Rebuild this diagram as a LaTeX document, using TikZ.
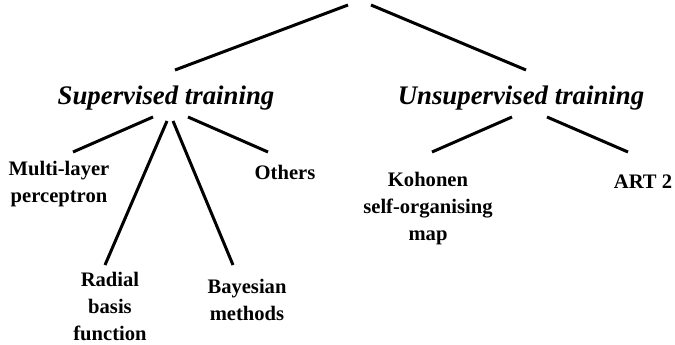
\documentclass[tikz,border=0pt]{standalone}
\usepackage{fontspec}
\setmainfont{Liberation Serif}
\begin{document}
\begin{tikzpicture}[x=1pt,y=-1pt,
  branch/.style={line width=3pt},
  group/.style={font=\fontsize{26.8}{30}\selectfont\bfseries\itshape, inner sep=0pt},
  leaf/.style={font=\fontsize{20.6}{27}\selectfont\bfseries, align=center, inner sep=0pt}]
\useasboundingbox (0,0) rectangle (675,345);

% category headings
\node[group] (sup) at (166,98) {Supervised training};
\node[group] (uns) at (521,98) {Unsupervised training};

% methods
\node[leaf] (mlp) at (59,184) {Multi-layer\\perceptron};
\node[leaf] (oth) at (285,172) {Others};
\node[leaf] (rbf) at (110,306) {Radial\\basis\\function};
\node[leaf] (bay) at (247,300) {Bayesian\\methods};
\node[leaf] (koh) at (428,209) {Kohonen\\self-organising\\map};
\node[leaf] (art) at (643,182) {ART 2};

% branch end points
\coordinate (rootL) at (348,5);
\coordinate (rootR) at (371,5);
\coordinate (supTop) at (175,70);
\coordinate (unsTop) at (526,70);
\coordinate (sA) at (153,117);
\coordinate (sB) at (167,121);
\coordinate (sC) at (173,121);
\coordinate (sD) at (188,117);
\coordinate (mlpTop) at (73,152);
\coordinate (rbfTop) at (105,265);
\coordinate (bayTop) at (233,265);
\coordinate (othTop) at (268,152);
\coordinate (uA) at (512,117);
\coordinate (uB) at (547,117);
\coordinate (kohTop) at (432,152);
\coordinate (artTop) at (628,152);

% branches
\draw[branch] (rootL) -- (supTop);
\draw[branch] (rootR) -- (unsTop);
\draw[branch] (sA) -- (mlpTop);
\draw[branch] (sB) -- (rbfTop);
\draw[branch] (sC) -- (bayTop);
\draw[branch] (sD) -- (othTop);
\draw[branch] (uA) -- (kohTop);
\draw[branch] (uB) -- (artTop);
\end{tikzpicture}
\end{document}
